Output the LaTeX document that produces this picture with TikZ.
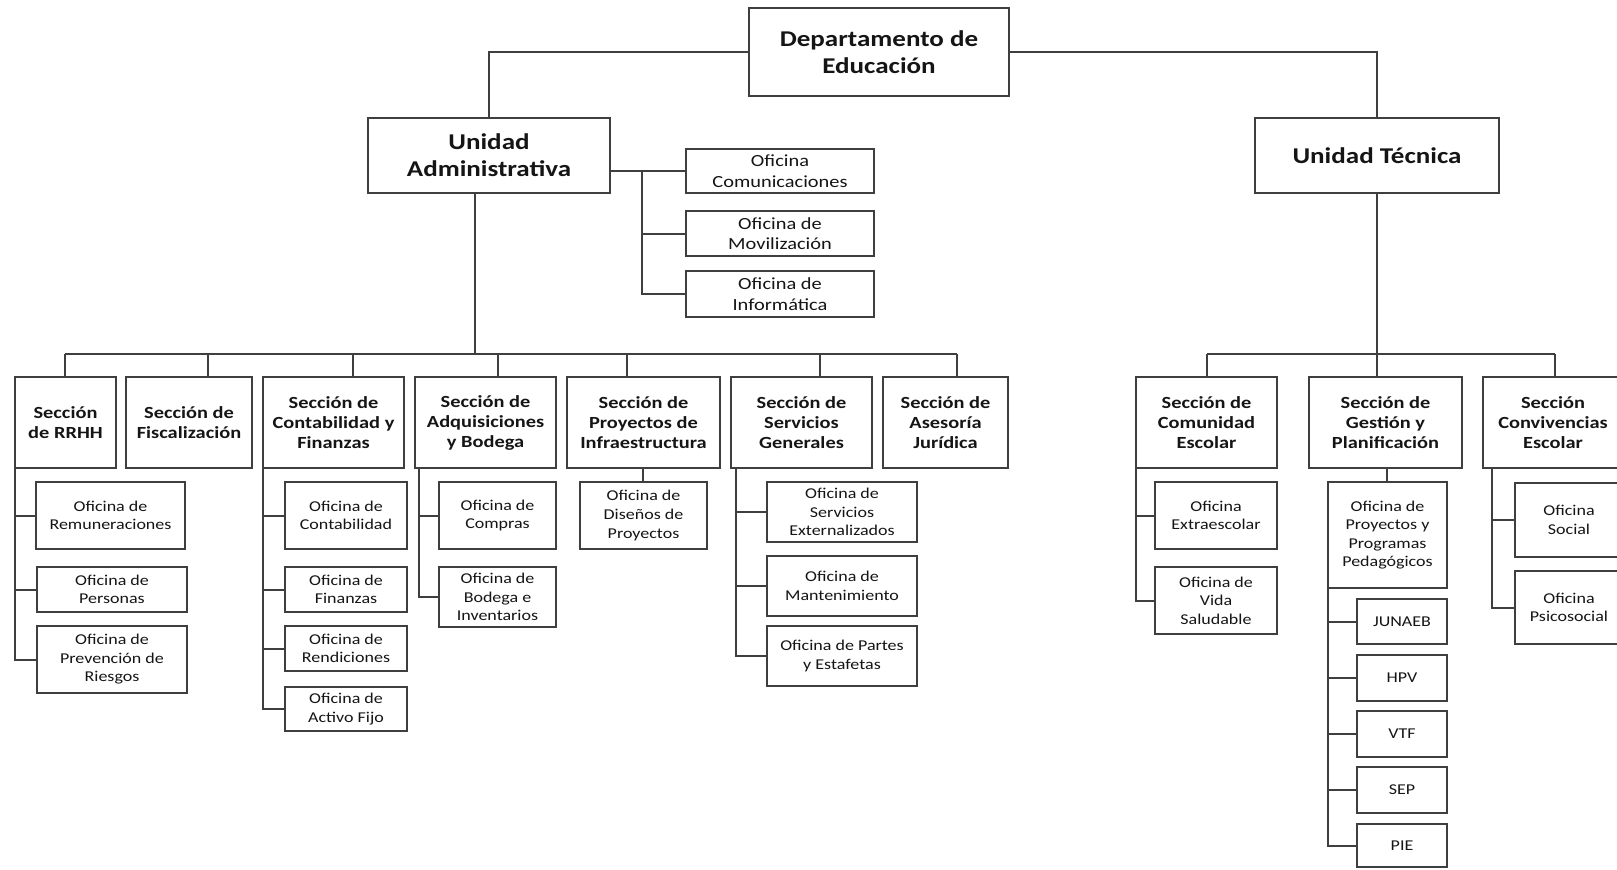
\documentclass[tikz,border=0pt]{standalone}
\usepackage{fontspec}
\setmainfont{Carlito}[FakeStretch=1.2]
\definecolor{linec}{HTML}{3F3F3F}
\definecolor{txt}{HTML}{151515}
\newcommand\bx[7]{\node[box,#6,minimum width={(#4-#2)*0.75pt},minimum height={(#5-#3)*0.75pt}] (#1) at ({(#2+#4)/2},{(#3+#5)/2}) {#7};}
\begin{document}
\begin{tikzpicture}[x=0.75pt,y=-0.75pt,
  box/.style={draw=linec, line width=1.5pt, inner sep=0pt, outer sep=0pt, align=center, fill=white, text=txt},
  ttl/.style={font=\fontsize{16.9}{20.5}\selectfont\bfseries},
  sec/.style={font=\fontsize{12.75}{15}\selectfont\bfseries},
  ofi/.style={font=\fontsize{11.25}{13.9}\selectfont},
  ofib/.style={font=\fontsize{12.75}{15.4}\selectfont},
  conn/.style={draw=linec, line width=1.5pt}]
\useasboundingbox (0,0) rectangle (1617,869);
\clip (0,0) rectangle (1617,869);
% top levels
\bx{top}{749}{8}{1009}{96}{ttl}{Departamento de\\Educación}
\bx{ua}{368}{118}{610}{193}{ttl}{Unidad\\Administrativa}
\bx{ut}{1255}{118}{1499}{193}{ttl}{Unidad Técnica}
\bx{com}{686}{149}{874}{193}{ofib}{Oficina\\Comunicaciones}
\bx{mov}{686}{211}{874}{256}{ofib}{Oficina de\\Movilización}
\bx{info}{686}{271}{874}{317}{ofib}{Oficina de\\Informática}
% sections
\bx{rrhh}{15}{377}{116}{468}{sec}{Sección\\de RRHH}
\bx{fis}{126}{377}{252}{468}{sec}{Sección de\\Fiscalización}
\bx{cont}{263}{377}{404}{468}{sec}{Sección de\\Contabilidad y\\Finanzas}
\bx{adq}{415}{377}{556}{468}{sec}{Sección de\\Adquisiciones\\y Bodega}
\bx{inf}{567}{377}{720}{468}{sec}{Sección de\\Proyectos de\\Infraestructura}
\bx{serv}{731}{377}{872}{468}{sec}{Sección de\\Servicios\\Generales}
\bx{jur}{883}{377}{1008}{468}{sec}{Sección de\\Asesoría\\Jurídica}
\bx{comu}{1136}{377}{1277}{468}{sec}{Sección de\\Comunidad\\Escolar}
\bx{gest}{1309}{377}{1462}{468}{sec}{Sección de\\Gestión y\\Planificación}
\bx{conv}{1483}{377}{1623}{468}{sec}{Sección\\Convivencias\\Escolar}
% oficinas
\bx{rem}{36}{482}{185}{549}{ofi}{Oficina de\\Remuneraciones}
\bx{per}{37}{567}{187}{612}{ofi}{Oficina de\\Personas}
\bx{prev}{37}{626}{187}{693}{ofi}{Oficina de\\Prevención de\\Riesgos}
\bx{ocont}{285}{482}{407}{549}{ofi}{Oficina de\\Contabilidad}
\bx{ofin}{285}{567}{407}{612}{ofi}{Oficina de\\Finanzas}
\bx{oren}{285}{626}{407}{671}{ofi}{Oficina de\\Rendiciones}
\bx{oact}{285}{687}{407}{731}{ofi}{Oficina de\\Activo Fijo}
\bx{ocomp}{439}{482}{556}{549}{ofi}{Oficina de\\Compras}
\bx{obod}{439}{567}{556}{627}{ofi}{Oficina de\\Bodega e\\Inventarios}
\bx{odis}{580}{482}{707}{549}{ofi}{Oficina de\\Diseños de\\Proyectos}
\bx{oext}{767}{482}{917}{542}{ofi}{Oficina de\\Servicios\\Externalizados}
\bx{oman}{767}{556}{917}{616}{ofi}{Oficina de\\Mantenimiento}
\bx{opar}{767}{626}{917}{686}{ofi}{Oficina de Partes\\y Estafetas}
\bx{oextra}{1155}{482}{1277}{549}{ofi}{Oficina\\Extraescolar}
\bx{ovida}{1155}{567}{1277}{634}{ofi}{Oficina de\\Vida\\Saludable}
\bx{oppp}{1328}{482}{1447}{588}{ofi}{Oficina de\\Proyectos y\\Programas\\Pedagógicos}
\bx{jun}{1357}{599}{1447}{644}{ofi}{JUNAEB}
\bx{hpv}{1357}{655}{1447}{701}{ofi}{HPV}
\bx{vtf}{1357}{711}{1447}{757}{ofi}{VTF}
\bx{sep}{1357}{767}{1447}{813}{ofi}{SEP}
\bx{pie}{1357}{824}{1447}{867}{ofi}{PIE}
\bx{osoc}{1515}{483}{1623}{557}{ofi}{Oficina\\Social}
\bx{opsi}{1515}{571}{1623}{644}{ofi}{Oficina\\Psicosocial}
% connectors: top
\coordinate (tl) at (489,52);
\coordinate (tr) at (1377,52);
\draw[conn] (top.west |- tl) -- (tl) -- (tl |- ua.north);
\draw[conn] (top.east |- tr) -- (tr) -- (tr |- ut.north);
% UA right offices
\coordinate (uab) at (642,0);
\draw[conn] (ua.east |- com.west) -- (com.west);
\draw[conn] (uab |- com.west) |- (info.west);
\draw[conn] (uab |- mov.west) -- (mov.west);
% UA bus
\coordinate (uav) at (475,354);
\draw[conn] (ua.south -| uav) -- (uav);
\coordinate (s1) at (65,354);
\coordinate (s2) at (208,354);
\coordinate (s3) at (353,354);
\coordinate (s4) at (498,354);
\coordinate (s5) at (627,354);
\coordinate (s6) at (820,354);
\coordinate (s7) at (957,354);
\draw[conn] (s1) -- (s7);
\draw[conn] (s1) -- (s1 |- rrhh.north);
\draw[conn] (s2) -- (s2 |- fis.north);
\draw[conn] (s3) -- (s3 |- cont.north);
\draw[conn] (s4) -- (s4 |- adq.north);
\draw[conn] (s5) -- (s5 |- inf.north);
\draw[conn] (s6) -- (s6 |- serv.north);
\draw[conn] (s7) -- (s7 |- jur.north);
% RRHH
\draw[conn] (rrhh.south west) |- (prev.west);
\draw[conn] (rrhh.south west |- rem.west) -- (rem.west);
\draw[conn] (rrhh.south west |- per.west) -- (per.west);
% Contabilidad
\draw[conn] (cont.south west) |- (oact.west);
\draw[conn] (cont.south west |- ocont.west) -- (ocont.west);
\draw[conn] (cont.south west |- ofin.west) -- (ofin.west);
\draw[conn] (cont.south west |- oren.west) -- (oren.west);
% Adquisiciones
\coordinate (adqb) at (419,0);
\draw[conn] (adq.south -| adqb) |- (obod.west);
\draw[conn] (adqb |- ocomp.west) -- (ocomp.west);
% Infraestructura
\coordinate (infb) at (643,0);
\draw[conn] (inf.south -| infb) -- (odis.north -| infb);
% Servicios
\coordinate (servb) at (736,0);
\draw[conn] (serv.south -| servb) |- (opar.west);
\draw[conn] (servb |- oext.west) -- (oext.west);
\draw[conn] (servb |- oman.west) -- (oman.west);
% UT bus
\coordinate (t1) at (1207,354);
\coordinate (t2) at (1377,354);
\coordinate (t3) at (1555,354);
\draw[conn] (t1) -- (t3);
\draw[conn] (ut.south -| t2) -- (t2 |- gest.north);
\draw[conn] (t1) -- (t1 |- comu.north);
\draw[conn] (t3) -- (t3 |- conv.north);
% Comunidad
\draw[conn] (comu.south west) |- (ovida.west);
\draw[conn] (comu.south west |- oextra.west) -- (oextra.west);
% Gestion
\coordinate (gb) at (1387,0);
\draw[conn] (gest.south -| gb) -- (oppp.north -| gb);
\draw[conn] (oppp.south west) |- (pie.west);
\draw[conn] (oppp.south west |- jun.west) -- (jun.west);
\draw[conn] (oppp.south west |- hpv.west) -- (hpv.west);
\draw[conn] (oppp.south west |- vtf.west) -- (vtf.west);
\draw[conn] (oppp.south west |- sep.west) -- (sep.west);
% Convivencias
\coordinate (convb) at (1492,0);
\draw[conn] (conv.south -| convb) |- (opsi.west);
\draw[conn] (convb |- osoc.west) -- (osoc.west);
\end{tikzpicture}
\end{document}
